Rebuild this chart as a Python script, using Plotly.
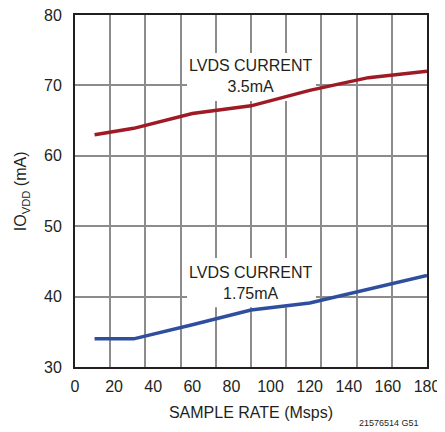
"""IOVDD current vs sample rate."""

import plotly.graph_objects as go

sample_rate = [10, 30, 60, 75, 90, 120, 150, 180]
io_3p5ma = [63.0, 63.9, 66.0, 66.5, 67.1, 69.3, 71.1, 72.0]

sample_rate_b = [10, 30, 60, 90, 120, 150, 180]
io_1p75ma = [34.0, 34.0, 36.0, 38.1, 39.1, 41.0, 43.0]

x_ticks = list(range(0, 181, 20))
x_grid = [18 * k for k in range(1, 10)]
y_ticks = list(range(30, 81, 10))

FONT = "Liberation Sans Narrow, Arial Narrow, Liberation Sans, Arial, sans-serif"
INK = "#231f20"
RED = "#9e1b25"
BLUE = "#2f4f9e"
GRID = "#8c8c8c"

fig = go.Figure()
fig.add_trace(go.Scatter(x=sample_rate, y=io_3p5ma, mode="lines",
                         line=dict(color=RED, width=3.5), showlegend=False))
fig.add_trace(go.Scatter(x=sample_rate_b, y=io_1p75ma, mode="lines",
                         line=dict(color=BLUE, width=3.5), showlegend=False))

# white boxes that knock out the grid behind the labels
for y0, y1 in [(67.8, 74.6), (38.5, 45.5)]:
    fig.add_shape(type="rect", xref="x", yref="y", x0=57.3, x1=123.2, y0=y0, y1=y1,
                  fillcolor="white", line_width=0, layer="between")

fig.add_annotation(x=90.2, y=71.3, text="LVDS CURRENT<br>3.5mA", showarrow=False,
                   font=dict(family=FONT, size=16, color=INK))
fig.add_annotation(x=90.2, y=42.0, text="LVDS CURRENT<br>1.75mA", showarrow=False,
                   font=dict(family=FONT, size=16, color=INK))

fig.add_annotation(xref="paper", yref="paper", x=-0.153, y=0.5, xanchor="center",
                   yanchor="middle", text="IO<sub>VDD</sub> (mA)", textangle=-90,
                   showarrow=False, font=dict(family=FONT, size=16, color=INK))
fig.add_annotation(xref="paper", yref="paper", x=0.983, y=-0.159, xanchor="right",
                   yanchor="middle", text="21576514 G51", showarrow=False,
                   font=dict(family=FONT, size=9, color=INK))

fig.update_xaxes(range=[0, 180], tickvals=x_ticks, showgrid=False, ticks="",
                 showline=True, linecolor=INK, linewidth=2, mirror=True,
                 zeroline=False, ticklabelstandoff=4, automargin=False,
                 ticklabeloverflow="allow",
                 minor=dict(tickmode="array", tickvals=x_grid, showgrid=True,
                            gridcolor=GRID, gridwidth=1.5, ticks=""),
                 title=dict(text="SAMPLE RATE (Msps)", standoff=13,
                            font=dict(family=FONT, size=16, color=INK)),
                 tickfont=dict(family=FONT, size=16, color=INK))
fig.update_yaxes(range=[30, 80], tickvals=y_ticks, showgrid=True, gridcolor=GRID,
                 gridwidth=1.5, ticks="", showline=True, linecolor=INK,
                 linewidth=2, mirror=True, zeroline=False, ticklabelstandoff=8,
                 automargin=False, ticklabeloverflow="allow",
                 tickfont=dict(family=FONT, size=16, color=INK))

# the page puts the figure 8px in from the top-left corner
fig.update_layout(width=437, height=424, plot_bgcolor="white", paper_bgcolor="white",
                  margin=dict(l=67, r=18, t=7, b=65))

fig.write_html("out.html")
